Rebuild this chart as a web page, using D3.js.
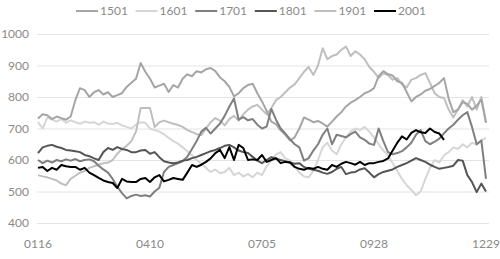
<!DOCTYPE html>
<html><head><meta charset="utf-8">
<script src="https://cdn.jsdelivr.net/npm/d3@7"></script>
<style>html,body{margin:0;padding:0;background:#fff;}svg{display:block;font-family:Lato,"Open Sans",sans-serif;}</style>
</head><body><svg id="c" width="500" height="259"></svg>
<script>
const seriesNames = ["1501","1601","1701","1801","1901","2001"];
const tickLabels = ["0116","0410","0705","0928","1229"];
const tickIndex = [0,24,48,72,96];
const yTicks = [400,500,600,700,800,900,1000];

const s1501 = [732,745,742,730,738,733,728,738,790,828,822,800,815,822,808,815,800,806,812,832,845,858,908,880,858,830,836,842,816,838,830,858,872,866,882,878,888,892,882,862,850,832,802,812,828,838,842,812,786,756,722,714,694,680,662,672,700,735,728,720,724,716,706,722,738,752,770,782,790,800,812,818,828,866,882,872,868,850,845,816,786,800,808,820,826,835,845,860,795,752,760,784,778,760,772,792,718];
const s1601 = [720,700,735,728,722,730,718,726,720,715,722,718,720,712,722,716,714,718,710,705,700,712,720,718,700,695,690,682,670,660,652,640,628,615,600,588,575,562,570,558,562,575,552,560,548,556,545,560,552,580,600,618,625,605,598,580,560,548,545,565,600,640,655,630,618,650,672,690,700,695,705,690,672,650,630,615,590,565,540,520,505,488,500,540,575,600,592,615,625,640,635,650,640,655,648,662,670];
const s1701 = [600,590,598,592,600,596,602,598,603,596,600,602,596,582,570,560,540,515,495,478,486,490,486,488,484,500,512,562,578,584,590,596,610,635,660,690,702,684,700,716,740,770,795,728,736,726,730,712,700,706,762,728,700,684,666,650,640,598,606,630,650,680,700,650,680,676,672,682,690,672,664,652,648,700,660,625,618,622,628,640,655,680,695,660,650,658,668,685,700,712,728,742,752,705,650,662,540];
const s1801 = [622,640,645,648,642,638,632,630,628,625,616,612,605,600,625,638,632,641,635,632,625,625,630,632,620,625,609,596,592,590,592,598,600,606,610,616,622,628,632,638,645,648,640,630,625,622,610,598,590,600,609,604,600,596,592,588,590,578,572,569,566,560,556,562,572,578,555,560,562,570,574,560,545,555,562,566,570,578,584,590,598,606,600,594,585,578,572,575,578,582,600,598,552,530,498,525,500];
const s1901 = [552,548,545,540,535,525,520,540,550,560,565,575,580,585,590,592,600,620,635,645,660,690,765,765,765,705,720,725,720,715,711,705,695,689,682,679,700,720,733,725,710,730,740,725,745,760,770,775,760,745,765,790,800,815,830,840,860,880,895,870,900,955,920,930,935,950,960,930,945,935,920,895,880,860,875,870,855,860,840,830,855,860,870,876,845,812,800,797,760,735,760,790,770,800,760,800,720];
const s2001 = [575,578,565,575,569,584,580,578,578,569,575,560,552,543,535,530,527,511,540,532,530,530,540,543,530,545,552,532,537,543,540,537,560,584,578,585,594,605,622,632,606,641,600,648,638,600,602,600,616,594,600,606,590,594,592,578,572,569,575,572,578,572,569,584,578,588,594,590,585,594,584,590,590,594,597,605,630,655,675,665,686,695,688,686,700,689,684,664,null,null,null,null,null,null,null,null,null];

const seriesValues = [s1501,s1601,s1701,s1801,s1901,s2001];
const colors = ["#a5a5a5","#d6d6d6","#7f7f7f","#555555","#bfbfbf","#000000"];

const svg = d3.select("#c");
const x = d3.scaleLinear().domain([0,96]).range([38,486]);
const y = d3.scaleLinear().domain([400,1000]).range([223,34]);

// gridlines
svg.append("g").selectAll("line").data(yTicks).join("line")
  .attr("x1",37).attr("x2",489)
  .attr("y1",d=>y(d)+0.5).attr("y2",d=>y(d)+0.5)
  .attr("stroke","#e4e4e4").attr("stroke-width",1);

// y labels
svg.append("g").selectAll("text").data(yTicks).join("text")
  .attr("x",29).attr("y",d=>y(d)+4)
  .attr("text-anchor","end").attr("font-size",12).attr("fill","#8a8a8a")
  .text(d=>d);

// x labels
svg.append("g").selectAll("text").data(tickIndex).join("text")
  .attr("x",d=>x(d)).attr("y",248)
  .attr("text-anchor","middle").attr("font-size",12).attr("fill","#8a8a8a")
  .text((d,i)=>tickLabels[i]);

// lines
const line = d3.line().defined(d=>d!=null).x((d,i)=>x(i)).y(d=>y(d));
const order = [1,4,0,2,3,5];
order.forEach(k=>{
  svg.append("path").datum(seriesValues[k])
    .attr("fill","none").attr("stroke",colors[k]).attr("stroke-width",2)
    .attr("stroke-linejoin","round")
    .attr("d",line);
});

// legend
const lg = svg.append("g").selectAll("g").data(seriesNames).join("g")
  .attr("transform",(d,i)=>`translate(${76+i*59.6},11)`);
lg.append("line").attr("x1",0).attr("x2",22).attr("y1",0).attr("y2",0)
  .attr("stroke",(d,i)=>colors[i]).attr("stroke-width",2);
lg.append("text").attr("x",24).attr("y",4).attr("font-size",12).attr("fill","#8a8a8a").text(d=>d);
</script></body></html>
